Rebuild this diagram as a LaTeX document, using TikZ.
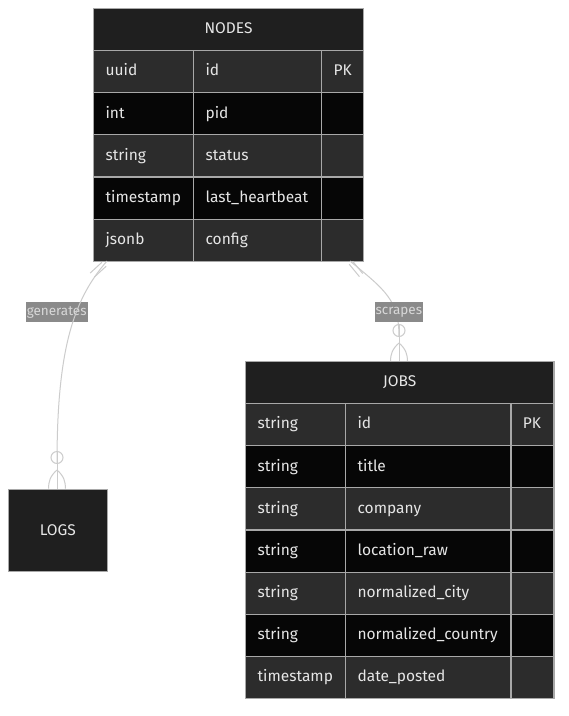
\documentclass[tikz,border=0pt]{standalone}
\usepackage{fontspec}
\setmainfont{Fira Sans}
\definecolor{hdr}{HTML}{1F1F1F}
\definecolor{rowA}{HTML}{2C2C2C}
\definecolor{rowB}{HTML}{060606}
\definecolor{bord}{HTML}{A8A8A8}
\definecolor{txt}{HTML}{E6E6E6}
\definecolor{edge}{HTML}{CCCCCC}
\definecolor{lblbg}{HTML}{8A8A8A}
\definecolor{lbltxt}{HTML}{D8D8D8}
\tikzset{
  cellbase/.style={draw=bord, line width=1.2pt, anchor=north west, text=txt,
    font=\fontsize{15.5}{18}\selectfont, text height=2.05ex, text depth=0.45ex},
  cell/.style n args={2}{cellbase, fill=#2, inner xsep=12pt, inner ysep=0pt,
    text width=#1-24pt, minimum height=42.14pt, align=left},
  hdrcell/.style={cellbase, fill=hdr, inner sep=0pt, minimum width=#1, minimum height=42pt, align=center},
  entity/.style={draw=bord, line width=1.2pt, fill=hdr, text=txt, inner sep=0pt,
    font=\fontsize{15.5}{18}\selectfont, minimum width=98.7pt, minimum height=82pt},
  rel/.style={draw=edge, line width=1pt},
  lbl/.style={fill=lblbg, text=lbltxt, inner xsep=1pt, inner ysep=0pt, minimum height=20pt,
    font=\fontsize{13.5}{16}\selectfont}
}
\begin{document}
\begin{tikzpicture}[x=1pt,y=-1pt]
\useasboundingbox[fill=white] (0,0) rectangle (569,716);
% ---- NODES table
\node[hdrcell=270pt] (nodes-h) at (93,8) {NODES};
\foreach \r/\ty/\nm/\k/\f [count=\i] in {0/uuid/id/PK/rowA, 1/int/pid//rowB, 2/string/status//rowA, 3/timestamp/last\_heartbeat//rowB, 4/jsonb/config//rowA}{
  \node[cell={100pt}{\f}] (nodes-\i-1) at (93,50+42.14*\r) {\ty};
  \node[cell={128pt}{\f}] (nodes-\i-2) at (193,50+42.14*\r) {\nm};
  \node[cell={42pt}{\f}] (nodes-\i-3) at (321,50+42.14*\r) {\k};
}
% ---- JOBS table
\node[hdrcell=308.3pt] (jobs-h) at (245,361) {JOBS};
\foreach \r/\ty/\nm/\k/\f [count=\i] in {0/string/id/PK/rowA, 1/string/title//rowB, 2/string/company//rowA, 3/string/location\_raw//rowB, 4/string/normalized\_city//rowA, 5/string/normalized\_country//rowB, 6/timestamp/date\_posted//rowA}{
  \node[cell={100pt}{\f}] (jobs-\i-1) at (245,403+42.14*\r) {\ty};
  \node[cell={165.3pt}{\f}] (jobs-\i-2) at (345,403+42.14*\r) {\nm};
  \node[cell={43pt}{\f}] (jobs-\i-3) at (510.3,403+42.14*\r) {\k};
}
% ---- LOGS entity
\node[entity, anchor=north west] (logs) at (8,488.7) {LOGS};
% ---- relationship: generates
\coordinate (g-s) at (107,261);
\coordinate (g-c) at (57,457.5);
\coordinate (g-e) at (57,488.7);
\node[lbl] (g-lbl) at (56.7,312) {generates};
\draw[rel] (g-s) .. controls (73,300) and (57,350) .. ([yshift=-6pt]g-c);
\draw[rel] (101.9,262.3) -- (90.1,273.1);
\draw[rel] (106.2,266.2) -- (94.4,277.0);
\draw[rel] (g-c) circle[radius=6pt];
\draw[rel] ([yshift=6pt]g-c) -- (g-e);
\draw[rel] (57,470) .. controls (50,476) and (48.5,482) .. (48.5,488.7);
\draw[rel] (57,470) .. controls (64,476) and (65.5,482) .. (65.5,488.7);
% ---- relationship: scrapes
\coordinate (s-s) at (350,261);
\coordinate (s-c) at (399,330.5);
\coordinate (s-e) at (399,361);
\draw[rel] (s-s) .. controls (385,290) and (399,300) .. ([yshift=-6pt]s-c);
\node[lbl] (s-lbl) at (398.8,312) {scrapes};
\draw[rel] (352.6,261.2) -- (362.8,273.6);
\draw[rel] (349.2,264.2) -- (359.4,276.6);
\draw[rel] (s-c) circle[radius=6pt];
\draw[rel] ([yshift=6pt]s-c) -- (s-e);
\draw[rel] (399,343) .. controls (392,349) and (390.5,355) .. (390.5,361);
\draw[rel] (399,343) .. controls (406,349) and (407.5,355) .. (407.5,361);
\end{tikzpicture}
\end{document}
